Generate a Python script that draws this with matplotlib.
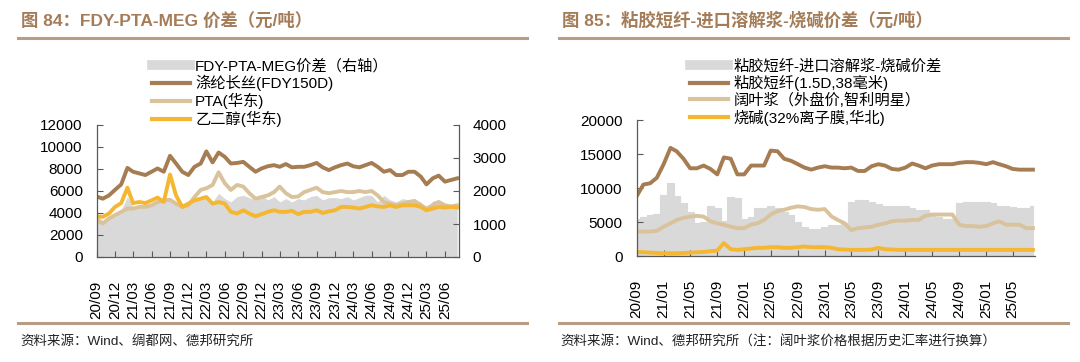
import numpy as np
import pandas as pd
import matplotlib
matplotlib.use('Agg')
import matplotlib.pyplot as plt
import matplotlib.dates as mdates
from matplotlib.lines import Line2D

plt.rcParams['font.family'] = ['Liberation Sans', 'Noto Sans CJK SC']

# monthly data, 2020-09 .. 2025-08
months = pd.date_range('2020-09-01', periods=60, freq='MS')

# figure 84 (left axis: yuan/ton, spread on right axis)
fdy = [5500, 5300, 5600, 6100, 6600, 8100, 7750, 7600, 7450, 7750,
       8050, 7750, 9200, 8500, 7750, 7450, 8200, 8500, 9600, 8600,
       9500, 9100, 8500, 8550, 8650, 8200, 7750, 8050, 8250, 8350,
       8200, 8450, 8150, 8200, 8200, 8350, 8550, 8150, 7900, 8150,
       8350, 8500, 8250, 8150, 8350, 8550, 8200, 7750, 7900, 7450,
       7450, 7750, 7750, 7300, 6600, 7150, 7400, 6850, 7000, 7150]
pta = [3350, 3050, 3500, 3800, 4100, 4400, 4400, 4550, 4550, 4700,
       5000, 5150, 5200, 4850, 4550, 4700, 5450, 6100, 6250, 6550,
       7700, 6700, 6100, 6550, 6400, 5800, 5300, 5450, 5600, 5900,
       6400, 5800, 5450, 5500, 5900, 6100, 6300, 5900, 5800, 5900,
       6000, 5900, 5900, 6000, 5900, 6000, 5600, 5000, 4850, 4700,
       4850, 5000, 5100, 4700, 4400, 4700, 5000, 4700, 4600, 4700]
meg = [3700, 3650, 3950, 4550, 4900, 6300, 4900, 5000, 4900, 5150,
       5400, 5000, 7500, 5600, 4550, 4850, 5150, 5300, 5450, 4850,
       5000, 4850, 4100, 3950, 4250, 3950, 3700, 3900, 4100, 4250,
       4100, 4100, 4200, 3900, 4100, 4100, 4250, 4000, 4150, 4250,
       4550, 4550, 4500, 4400, 4550, 4700, 4600, 4550, 4700, 4550,
       4700, 4700, 4700, 4550, 4250, 4400, 4550, 4500, 4550, 4500]
fdy_spread = [1270, 1100, 1170, 1300, 1430, 1830, 1530, 1570, 1600, 1630,
              1670, 1670, 1770, 1670, 1530, 1600, 1730, 1830, 1770, 1670,
              1930, 1770, 1670, 1830, 1870, 1800, 1730, 1870, 1730, 1830,
              1670, 1770, 1670, 1770, 1730, 1830, 1870, 1730, 1800, 1800,
              1770, 1830, 1730, 1800, 1870, 1870, 1670, 1870, 1730, 1670,
              1770, 1730, 1730, 1670, 1470, 1700, 1730, 1530, 1500, 1530]

# figure 85
viscose = [8800, 10500, 10700, 11500, 13500, 15900, 15400, 14300, 12900, 12900,
           13300, 12800, 12000, 14500, 14300, 12000, 12000, 13300, 13300, 13300,
           15500, 15400, 14300, 14000, 13500, 13000, 12700, 13000, 13200, 13000,
           13000, 12900, 13000, 12500, 12500, 13200, 13500, 13300, 12800, 12700,
           13000, 13600, 13300, 12900, 13300, 13500, 13500, 13500, 13700, 13800,
           13800, 13700, 13500, 13800, 13500, 13200, 12800, 12700, 12700, 12700]
pulp = [3600, 3600, 3600, 3700, 4300, 4800, 5300, 5600, 5800, 5900,
        5800, 5100, 4800, 4600, 4300, 4100, 4100, 4600, 4800, 5300,
        6100, 6600, 6800, 7100, 7300, 7200, 6900, 6800, 6900, 5800,
        5300, 4800, 3800, 4100, 4200, 4300, 4600, 4800, 5100, 5200,
        5200, 5300, 5300, 5900, 6100, 6100, 6100, 6100, 4600, 4400,
        4400, 4300, 4400, 4800, 5100, 4600, 4600, 4600, 4100, 4100]
caustic = [600, 550, 500, 450, 400, 400, 400, 450, 500, 550,
           600, 700, 800, 1900, 1000, 900, 1000, 1100, 1200, 1200,
           1300, 1300, 1200, 1200, 1300, 1400, 1300, 1300, 1300, 1200,
           1000, 950, 900, 900, 900, 950, 1200, 1000, 950, 900,
           900, 900, 900, 900, 900, 900, 900, 900, 900, 900,
           900, 900, 900, 900, 900, 900, 900, 900, 900, 900]
visc_spread = [5500, 5800, 6000, 6200, 9000, 10800, 8800, 7800, 6500, 4800,
               5000, 7300, 7000, 5200, 8700, 8500, 5500, 5800, 7000, 7000,
               7300, 7000, 6500, 6000, 5000, 4200, 4000, 4000, 4300, 4500,
               4600, 4800, 8000, 8300, 8300, 8000, 7600, 7300, 7300, 7300,
               7300, 7000, 6800, 6800, 6000, 5800, 5500, 5500, 7800, 8000,
               8000, 8000, 8000, 7800, 7400, 7300, 7200, 7000, 7000, 7400]

BROWN = '#a67c52'
TAN = '#d9c39c'
ORANGE = '#f5b731'
GRAY = '#d9d9d9'
TITLE_C = '#a47c58'
RULE_C = '#b89d84'
SPINE_C = '#595959'

W, H = 1080, 362
fig = plt.figure(figsize=(W / 100, H / 100), dpi=100)


def fx(px):
    return px / W


def fy(py):
    return 1 - py / H


def style_axis(ax):
    ax.spines['top'].set_visible(False)
    for s in ['left', 'bottom', 'right']:
        ax.spines[s].set_color(SPINE_C)
        ax.spines[s].set_linewidth(0.9)
    ax.tick_params(direction='in', length=4, width=0.8, color=SPINE_C,
                   labelsize=11, pad=10)
    ax.tick_params(axis='x', pad=17)
    ax.xaxis.set_major_formatter(mdates.DateFormatter('%y/%m'))
    for lab in ax.get_xticklabels():
        lab.set_rotation(90)


xlim = (pd.Timestamp('2020-09-01'), pd.Timestamp('2025-08-08'))

# ---- left panel ----
ax1 = fig.add_axes([fx(96.7), fy(257), fx(458.6) - fx(96.7), fy(125) - fy(257)])
ax1r = ax1.twinx()
ax1r.fill_between(months, 0, fdy_spread, color=GRAY, lw=0)
ax1.plot(months, fdy, color=BROWN, lw=2.8)
ax1.plot(months, pta, color=TAN, lw=2.8)
ax1.plot(months, meg, color=ORANGE, lw=2.8)
ax1.set_zorder(ax1r.get_zorder() + 1)
ax1.patch.set_visible(False)
ax1.set_ylim(0, 12000)
ax1.set_yticks(range(0, 12001, 2000))
ax1r.set_ylim(0, 4000)
ax1r.set_yticks(range(0, 4001, 1000))
ax1.set_xlim(*xlim)
ax1.set_xticks(pd.date_range('2020-09-01', '2025-06-01', freq='3MS'))
style_axis(ax1)
style_axis(ax1r)
ax1.spines['right'].set_visible(False)
ax1r.spines['left'].set_visible(False)
ax1r.spines['bottom'].set_visible(False)

# ---- right panel ----
ax2 = fig.add_axes([fx(636.7), fy(256), fx(1034.5) - fx(636.7), fy(120) - fy(256)])
ax2.fill_between(months, 0, visc_spread, step='mid', facecolor=GRAY,
                 edgecolor=GRAY, lw=0.8)
ax2.plot(months, viscose, color=BROWN, lw=2.8)
ax2.plot(months, pulp, color=TAN, lw=2.8)
ax2.plot(months, caustic, color=ORANGE, lw=2.8)
ax2.set_ylim(0, 20000)
ax2.set_yticks(range(0, 20001, 5000))
ax2.set_xlim(*xlim)
ax2.set_xticks(pd.date_range('2020-09-01', '2025-05-01', freq='4MS'))
style_axis(ax2)
ax2.spines['right'].set_visible(False)


# ---- legends ----
def make_legend(labels, x_px):
    handles = [Line2D([], [], color=GRAY, lw=7),
               Line2D([], [], color=BROWN, lw=3),
               Line2D([], [], color=TAN, lw=3),
               Line2D([], [], color=ORANGE, lw=3)]
    fig.legend(handles, labels, loc='upper left',
               bbox_to_anchor=(fx(x_px), fy(59)), frameon=False,
               fontsize=11, handlelength=2.5, handletextpad=0.35,
               labelspacing=0.1, borderpad=0, borderaxespad=0)


make_legend(['FDY-PTA-MEG价差（右轴）', '涤纶长丝(FDY150D)', 'PTA(华东)', '乙二醇(华东)'], 151.7)
make_legend(['粘胶短纤-进口溶解浆-烧碱价差', '粘胶短纤(1.5D,38毫米)',
             '阔叶浆（外盘价,智利明星）', '烧碱(32%离子膜,华北)'], 690)

# ---- titles, rules, sources ----
fig.text(fx(21), fy(20), '图 84：FDY-PTA-MEG 价差（元/吨）', fontsize=12.5,
         fontweight='bold', color=TITLE_C, va='center', ha='left')
fig.text(fx(562), fy(20), '图 85：粘胶短纤-进口溶解浆-烧碱价差（元/吨）', fontsize=12.5,
         fontweight='bold', color=TITLE_C, va='center', ha='left')
for x0, x1 in [(18, 527), (559, 1068)]:
    fig.add_artist(Line2D([fx(x0), fx(x1)], [fy(37.7), fy(37.7)], color=RULE_C, lw=2.2))
    fig.add_artist(Line2D([fx(x0), fx(x1)], [fy(322.7), fy(322.7)], color=RULE_C, lw=2.2))
fig.text(fx(20.7), fy(341.7), '资料来源：Wind、绸都网、德邦研究所', fontsize=9.7,
         color='#222222', va='center', ha='left')
fig.text(fx(560.7), fy(341.7), '资料来源：Wind、德邦研究所（注：阔叶浆价格根据历史汇率进行换算）',
         fontsize=9.7, color='#222222', va='center', ha='left')

fig.savefig('out.png', dpi=100)
